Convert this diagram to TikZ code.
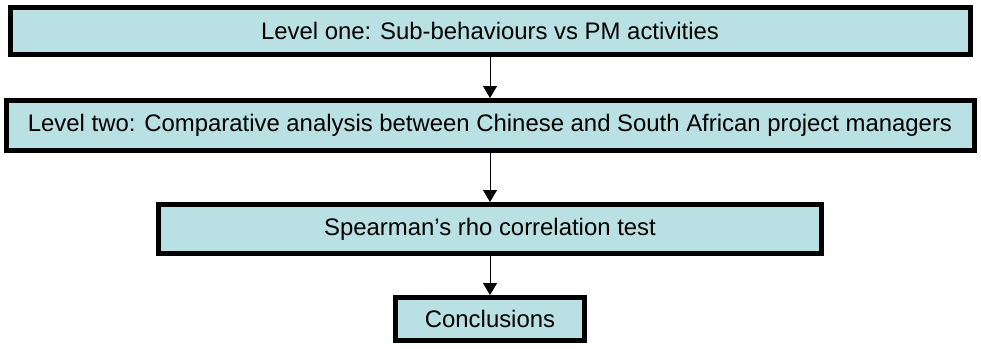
\documentclass[tikz,border=0pt]{standalone}
\usepackage{fontspec}
\setmainfont{Liberation Sans}
\usepackage{xcolor}
\usepackage{tikz}
\usetikzlibrary{arrows.meta}
\definecolor{boxfill}{HTML}{B9E0E3}
\definecolor{edge}{HTML}{000000}
\tikzset{
  stage/.style={draw=edge, fill=boxfill, line width=5pt, inner sep=0pt, font=\fontsize{23.9}{28}\selectfont},
  flow/.style={draw=edge, line width=0.9pt, -{Triangle[width=14pt,length=12pt]}},
}

\begin{document}
\begin{tikzpicture}[x=1pt,y=1pt]
  \useasboundingbox (0,0) rectangle (981,-348);
  \node[stage, minimum width=960pt, minimum height=47pt] (lvlone) at (490,-31) {Level one: Sub-behaviours vs PM activities};
  \node[stage, minimum width=968pt, minimum height=50pt] (lvltwo) at (490,-125.5) {Level two: Comparative analysis between Chinese and South African project managers};
  \node[stage, minimum width=663pt, minimum height=49pt] (spear) at (490,-229) {Spearman’s rho correlation test};
  \node[stage, minimum width=189pt, minimum height=43pt] (concl) at (490,-319) {Conclusions};
  \draw[flow] (lvlone) -- (lvltwo);
  \draw[flow] (lvltwo) -- (spear);
  \draw[flow] (spear) -- (concl);
\end{tikzpicture}
\end{document}
